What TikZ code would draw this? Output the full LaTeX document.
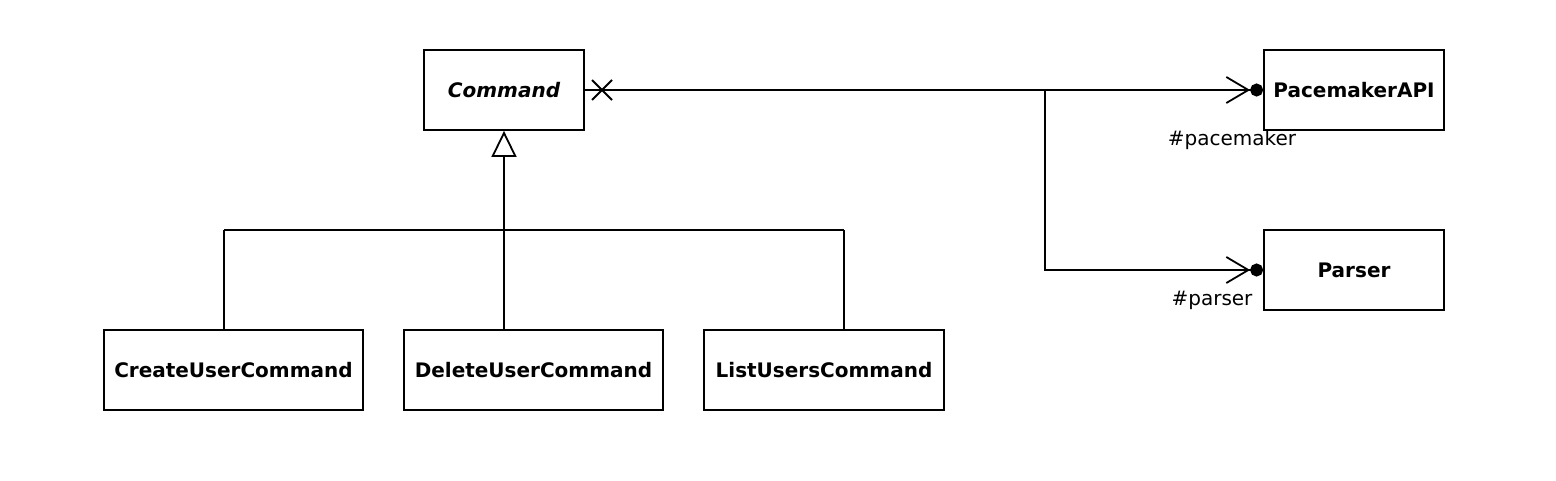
\documentclass[tikz,border=0pt]{standalone}
\usepackage{fontspec}
\setmainfont{DejaVu Sans}
\usetikzlibrary{arrows.meta}
\tikzset{
  classbox/.style={draw,line width=1.8pt,minimum height=80pt,inner sep=0pt,
    font=\fontsize{20}{24}\selectfont\bfseries},
  rolelabel/.style={font=\fontsize{20}{24}\selectfont},
  gen/.style={line width=1.8pt,-{Triangle[open,length=26pt,width=25pt,line width=1.8pt]}},
  assoc/.style={line width=1.8pt,-{Straight Barb[length=22pt,width=26pt,line width=1.8pt,sep=0pt]Circle[length=13pt,sep=0pt]}},
  link/.style={line width=1.8pt}
}
\begin{document}
\begin{tikzpicture}[x=1pt,y=-1pt]
	\useasboundingbox (0,0) rectangle (1556,480);
	\node [classbox,minimum width=160pt] (cmd) at (504, 90) {\itshape Command};
	\node [classbox,minimum width=180pt] (api) at (1354, 90) {PacemakerAPI};
	\node [classbox,minimum width=180pt] (parser) at (1354, 270) {Parser};
	\node [classbox,minimum width=259pt] (create) at (233.5, 370) {CreateUserCommand};
	\node [classbox,minimum width=259pt] (delete) at (533.5, 370) {DeleteUserCommand};
	\node [classbox,minimum width=240pt] (list) at (824, 370) {ListUsersCommand};
	\node [rolelabel] (apirole) at (1232, 140) {\#pacemaker};
	\node [rolelabel] (parserrole) at (1212, 300) {\#parser};
	\coordinate (bar) at (504, 230);
	\coordinate (j1) at (224, 230);
	\coordinate (j3) at (844, 230);
	\coordinate (split) at (1045, 90);
	\coordinate (xm) at (602, 90);
	% generalization
	\draw [gen] (bar) -- (cmd.south);
	\draw [link] (j1) -- (j3);
	\draw [link] (j1) -- (j1 |- create.north);
	\draw [link] (bar) -- (bar |- delete.north);
	\draw [link] (j3) -- (j3 |- list.north);
	% associations
	\draw [assoc] (cmd.east) -- (api.west);
	\draw [assoc] (split) |- (parser.west);
	\draw [link] ([shift={(-10,-10)}]xm) -- ([shift={(10,10)}]xm);
	\draw [link] ([shift={(-10,10)}]xm) -- ([shift={(10,-10)}]xm);
\end{tikzpicture}
\end{document}
